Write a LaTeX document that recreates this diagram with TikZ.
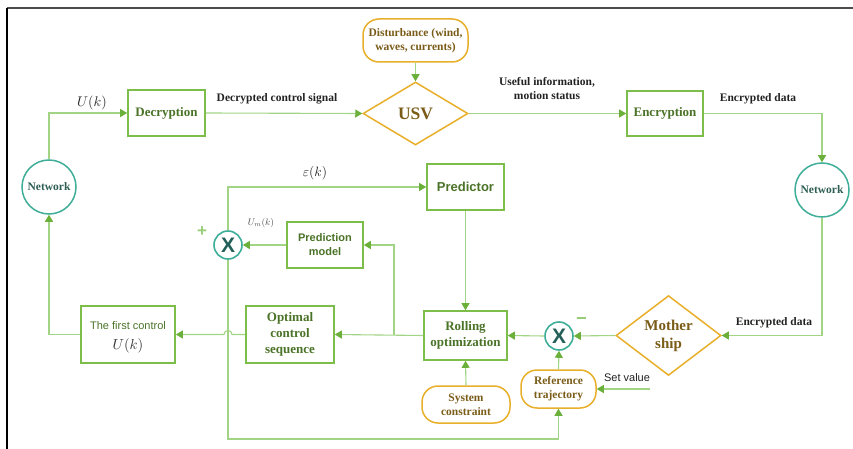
\documentclass[tikz,border=0pt]{standalone}
\usepackage{fontspec}
\setmainfont{Liberation Serif}
\newfontfamily\arialf{Liberation Sans}
\usetikzlibrary{shapes.geometric,arrows.meta}
\definecolor{boxgreen}{HTML}{7DBE4B}
\definecolor{txtgreen}{HTML}{4B7328}
\definecolor{linegreen}{HTML}{A2D486}
\definecolor{arrowgreen}{HTML}{6AB03A}
\definecolor{ylw}{HTML}{E8AF2A}
\definecolor{brn}{HTML}{7A5C18}
\definecolor{teal1}{HTML}{3FAE99}
\definecolor{tealtxt}{HTML}{2E5E54}
\definecolor{xtxt}{HTML}{24605A}
\definecolor{lbl}{HTML}{222222}
\newcommand\fsz[2]{\fontsize{#1}{#2}\selectfont}
\tikzset{
  gbox/.style={draw=boxgreen, line width=1.6pt, fill=white, text=txtgreen, align=center, inner sep=0pt, font=\bfseries\fsz{13}{16}},
  ybox/.style={draw=ylw, line width=1.5pt, fill=white, text=brn, align=center, inner sep=0pt, rounded corners=16pt, font=\bfseries\fsz{11.5}{14}},
  ydia/.style={diamond, draw=ylw, line width=1.5pt, fill=white, text=brn, align=center, inner sep=0pt},
  netc/.style={circle, draw=teal1, line width=1.5pt, fill=white, text=tealtxt, minimum size=54pt, inner sep=0pt, font=\bfseries\fsz{11.5}{13}},
  xc/.style={circle, draw=teal1, line width=1.6pt, fill=white, text=xtxt, minimum size=28pt, inner sep=0pt, font=\arialf\bfseries\fsz{21}{21}},
  conn/.style={draw=linegreen, line width=1.1pt, -{Triangle[length=7pt,width=8pt,color=arrowgreen]}},
  lab/.style={text=lbl, font=\bfseries\fsz{11.5}{14}, align=center, inner sep=0pt}
}
\begin{document}
\begin{tikzpicture}[x=1pt,y=-1pt]
\useasboundingbox (0,0) rectangle (853,449);
% frame
\draw[draw=black!70, line width=1.5pt] (7,8) -- (853,8);
\draw[draw=black, line width=1.2pt] (7,8) -- (7,449);

% nodes
\node[gbox, minimum width=77pt, minimum height=46pt] (dec) at (166.5,113) {Decryption};
\node[gbox, minimum width=76pt, minimum height=45pt] (enc) at (665,113.5) {Encryption};
\node[gbox, minimum width=77pt, minimum height=46pt, font=\arialf\bfseries\fsz{13}{15}] (pred) at (465.5,187) {Predictor};
\node[gbox, minimum width=76pt, minimum height=46pt, font=\arialf\bfseries\fsz{11}{14}] (pm) at (325,245) {Prediction\\model};
\node[gbox, minimum width=88pt, minimum height=57pt] (opt) at (290,334.5) {Optimal\\control\\sequence};
\node[gbox, minimum width=94pt, minimum height=57pt] (first) at (128,334.5) {};
\node[text=txtgreen, font=\arialf\fsz{11}{13}, inner sep=0pt] (ft) at (128,326) {The first control};
\node[text=black!80, scale=1.45, inner sep=0pt] (fu) at (128,345.5) {$U(k)$};
\node[gbox, minimum width=83pt, minimum height=49pt] (roll) at (465.5,335.5) {Rolling\\optimization};

\node[ydia, minimum width=105pt, minimum height=63pt, font=\bfseries\fsz{17.5}{20}] (usv) at (415.5,113.5) {USV};
\node[ydia, minimum width=105pt, minimum height=67pt, font=\bfseries\fsz{15}{18}] (ms) at (668.5,335.5) {Mother\\ship};
\node[ybox, minimum width=105pt, minimum height=43pt] (dist) at (415.5,40.5) {Disturbance (wind,\\waves, currents)};
\node[ybox, minimum width=75pt, minimum height=38pt] (ref) at (558.5,389) {Reference\\trajectory};
\node[ybox, minimum width=88pt, minimum height=37pt] (sys) at (466,404.5) {System\\constraint};

\node[netc] (netL) at (49,187) {Network};
\node[netc] (netR) at (822,190) {Network};
\node[xc] (x1) at (228,245) {X};
\node[xc] (x2) at (559,336) {X};

\coordinate (br) at (394,335);
\coordinate (sv) at (650,389);
\coordinate (bl) at (228,439);

% connectors
\draw[conn] (netL.north) |- (dec.west);
\draw[conn] (dec.east) -- (usv.west);
\draw[conn] (dist.south) -- (usv.north);
\draw[conn] (usv.east) -- (enc.west);
\draw[conn] (enc.east) -| (netR.north);
\draw[conn] (netR.south) |- (ms.east);
\draw[conn] (ms.west) -- (x2.east);
\draw[conn] (x2.west) -- (roll.east);
\draw[conn] (ref.north) -- (x2.south);
\draw[conn] (sv) -- (ref.east);
\draw[conn] (sys.north) -- (roll.south);
\draw[conn] (pred.south) -- (roll.north);
\draw[conn] (roll.west) -- (opt.east);
\draw[conn] (br) |- (pm.east);
\draw[conn] (pm.west) -- (x1.east);
\draw[conn] (x1.north) |- (pred.west);
\draw[conn] (x1.south) -- (bl) -| (ref.south);
\draw[conn] (opt.west) -- (232,334.5) .. controls (232,329.2) and (224,329.2) .. (224,334.5) -- (first.east);
\draw[conn] (first.west) -| (netL.south);

% labels
\node[text=black!85, scale=1.4] (lu) at (92,103) {$U(k)$};
\node[lab] (l1) at (277,99) {Decrypted control signal};
\node[lab] (l2) at (547,88.5) {Useful information,\\motion status};
\node[lab] (l3) at (758,99) {Encrypted data};
\node[lab] (l4) at (774,323) {Encrypted data};
\node[text=black!85, scale=1.35] (le) at (315,173) {$\varepsilon(k)$};
\node[text=black!70, scale=0.95] (lum) at (261,223) {$U_m(k)$};
\node[text=linegreen!80!arrowgreen, font=\arialf\bfseries\fsz{17}{17}] (lp) at (202,232) {+};
\node[fill=linegreen!80!arrowgreen, minimum width=9pt, minimum height=2.2pt, inner sep=0pt] (lm) at (581,318) {};
\node[text=lbl, font=\arialf\fsz{11}{13}] (ls) at (627,378) {Set value};
\end{tikzpicture}
\end{document}
